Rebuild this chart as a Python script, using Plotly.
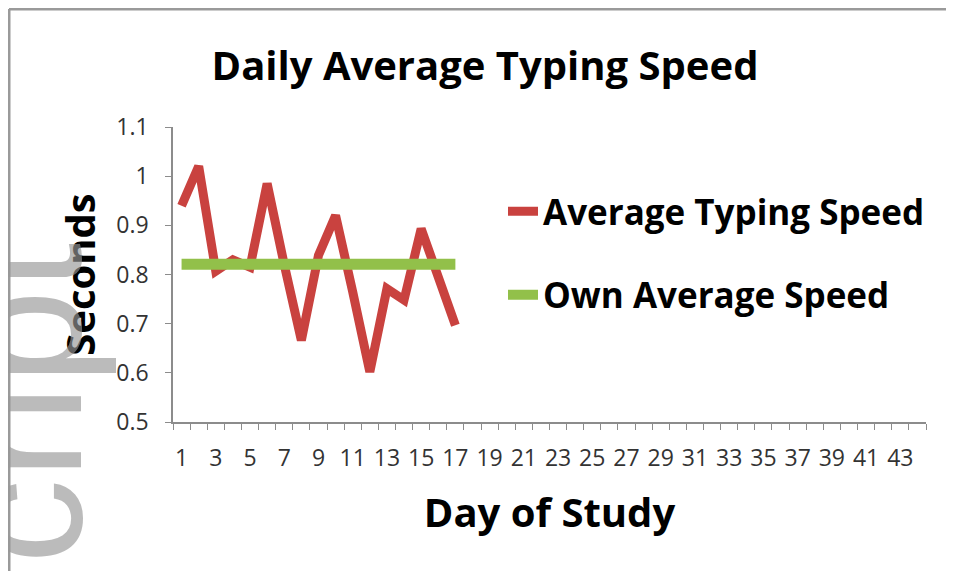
import plotly.graph_objects as go

# Day of study (1-17 recorded, axis runs to 44)
days = list(range(1, 18))
typing_speed = [0.94, 1.02, 0.807, 0.83, 0.815, 0.985, 0.82, 0.666, 0.839, 0.92,
                0.765, 0.602, 0.771, 0.748, 0.893, 0.792, 0.697]
own_average = [0.821] * len(days)

n_days_axis = 44
x_tick_vals = list(range(1, n_days_axis, 2))
x_tick_text = [str(v) for v in x_tick_vals]
y_tick_vals = [0.5, 0.6, 0.7, 0.8, 0.9, 1.0, 1.1]
y_tick_text = ["0.5", "0.6", "0.7", "0.8", "0.9", "1", "1.1"]

RED = "#c9423f"
GREEN = "#92c04a"
AXIS = "#8c8c8c"
FONT = "Open Sans"

# page body has an 8px margin, so work in screen pixels and shift back
OFF = 8
W, H = 954 - OFF, 571 - OFF
L, R, T, B = 173, 926, 127, 422  # plot area, screen pixels


def px_x(p):
    return (p - L) / (R - L)


def px_y(p):
    return (B - p) / (B - T)


fig = go.Figure()

fig.add_trace(go.Scatter(
    x=days, y=typing_speed, mode="lines", name="Average Typing Speed",
    line=dict(color=RED, width=9), legendgroup="a",
))
fig.add_trace(go.Scatter(
    x=days, y=own_average, mode="lines", name="Own Average Speed",
    line=dict(color=GREEN, width=11), legendgroup="b",
))

fig.update_layout(
    width=W, height=H,
    margin=dict(l=L - OFF, r=W - (R - OFF), t=T - OFF, b=H - (B - OFF), autoexpand=False),
    paper_bgcolor="white", plot_bgcolor="white",
    font=dict(family=FONT, color="black"),
    title=dict(
        text="<b>Daily Average Typing Speed</b>",
        font=dict(size=40, family=FONT, color="black"),
        x=(485 - OFF) / W, xref="container", xanchor="center",
        y=1 - (66 - OFF) / H, yref="container", yanchor="middle",
    ),
    legend=dict(
        x=px_x(503), y=px_y(182), xanchor="left", yanchor="top",
        font=dict(size=35, family=FONT, color="black", weight="bold"),
        traceorder="grouped", tracegroupgap=35,
        bgcolor="rgba(0,0,0,0)",
    ),
    showlegend=True,
)

fig.update_xaxes(
    range=[0.5, n_days_axis + 0.5],
    tickmode="array", tickvals=x_tick_vals, ticktext=x_tick_text,
    ticks="", tickangle=0, ticklabelstandoff=15,
    tickfont=dict(size=23, family=FONT, color="#333333"),
    minor=dict(ticks="outside", tick0=0.5, dtick=1, ticklen=6, tickcolor=AXIS, tickwidth=1.2),
    showline=True, linecolor=AXIS, linewidth=1.5,
    showgrid=False, zeroline=False,
    title=dict(text="<b>Day of Study</b>", font=dict(size=40, family=FONT, color="black"), standoff=27),
)
fig.update_yaxes(
    range=[0.5, 1.1],
    tickmode="array", tickvals=y_tick_vals, ticktext=y_tick_text,
    ticks="outside", ticklen=6, tickcolor=AXIS, tickwidth=1.2, ticklabelstandoff=12,
    tickfont=dict(size=23, family=FONT, color="#333333"),
    showline=True, linecolor=AXIS, linewidth=1.5,
    showgrid=False, zeroline=False,
    title=dict(text="<b>Seconds</b>", font=dict(size=40, family=FONT, color="black"), standoff=8),
)

# chart frame (top and left edges of the cropped border)
fig.add_shape(type="line", xref="paper", yref="paper",
              x0=px_x(OFF + 1), x1=px_x(960), y0=px_y(OFF + 1), y1=px_y(OFF + 1),
              line=dict(color="#9a9a9a", width=3), layer="above")
fig.add_shape(type="line", xref="paper", yref="paper",
              x0=px_x(OFF + 1), x1=px_x(OFF + 1), y0=px_y(OFF + 1), y1=px_y(580),
              line=dict(color="#9a9a9a", width=3), layer="above")

# overlaid watermark text on the left edge
fig.add_annotation(
    text="cript", textangle=-90, showarrow=False,
    xref="paper", yref="paper", x=px_x(22), y=px_y(404),
    xanchor="center", yanchor="middle",
    font=dict(size=170, family="Liberation Sans", color="rgba(150,150,150,0.65)"),
)

fig.write_html("out.html")
